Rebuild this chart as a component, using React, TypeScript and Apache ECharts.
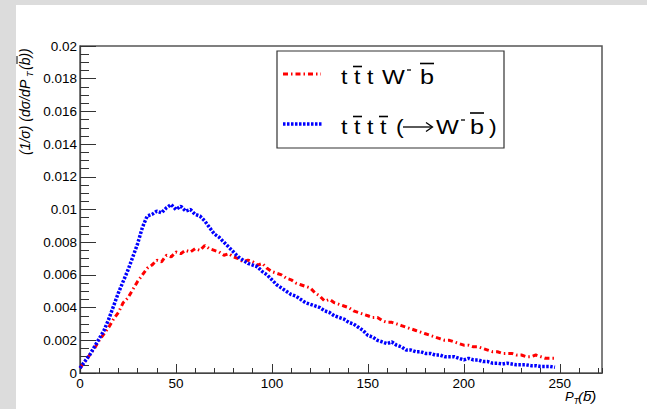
import React, { useEffect, useRef } from "react";
import * as echarts from "echarts";

// Bin centres of P_T(b-bar)
const PT = [
  0, 2.5, 5, 7.5, 10, 12.5, 15, 17.5, 20, 22.5, 25, 27.5, 30, 32.5, 35, 37.5, 40, 42.5, 45, 47.5,
  50, 52.5, 55, 57.5, 60, 62.5, 65, 67.5, 70, 72.5, 75, 77.5, 80, 82.5, 85, 87.5, 90, 92.5, 95, 97.5,
  100, 102.5, 105, 107.5, 110, 112.5, 115, 117.5, 120, 122.5, 125, 127.5, 130, 132.5, 135, 137.5, 140, 142.5, 145, 147.5,
  150, 152.5, 155, 157.5, 160, 162.5, 165, 167.5, 170, 172.5, 175, 177.5, 180, 182.5, 185, 187.5, 190, 192.5, 195, 197.5,
  200, 202.5, 205, 207.5, 210, 212.5, 215, 217.5, 220, 222.5, 225, 227.5, 230, 232.5, 235, 237.5, 240, 242.5, 245, 247.5,
];

// t tbar t W- bbar (red)
const RED = [
  0.0003, 0.0007, 0.0011, 0.0015, 0.002, 0.0024, 0.0028, 0.0033, 0.0037, 0.0043,
  0.0046, 0.0051, 0.0056, 0.006, 0.0064, 0.0066, 0.0069, 0.0068, 0.0072, 0.0071,
  0.0074, 0.0073, 0.0075, 0.0074, 0.0076, 0.0075, 0.0078, 0.0076, 0.0075, 0.0074,
  0.0072, 0.0073, 0.0071, 0.007, 0.0068, 0.0069, 0.0068, 0.0066, 0.0067, 0.0064,
  0.0062, 0.0061, 0.006, 0.0058, 0.0057, 0.0055, 0.0054, 0.0053, 0.0052, 0.0049,
  0.0047, 0.0044, 0.0045, 0.0043, 0.0042, 0.0041, 0.004, 0.0038, 0.0037, 0.0036,
  0.0035, 0.0034, 0.0034, 0.0032, 0.0031, 0.0031, 0.003, 0.0029, 0.0028, 0.0027,
  0.0026, 0.0025, 0.0024, 0.0023, 0.0022, 0.0021, 0.002, 0.002, 0.0019, 0.0018,
  0.0017, 0.0017, 0.0016, 0.0016, 0.0015, 0.0014, 0.0013, 0.0013, 0.0012, 0.0012,
  0.0012, 0.0011, 0.0011, 0.001, 0.001, 0.0011, 0.001, 0.0009, 0.0009, 0.0009,
];

// t tbar t tbar (-> W- bbar) (blue)
const BLUE = [
  0.0003, 0.0007, 0.0011, 0.0016, 0.0021, 0.0026, 0.0033, 0.0041, 0.0049, 0.0056,
  0.0063, 0.0071, 0.0079, 0.0089, 0.0096, 0.0097, 0.0099, 0.0098, 0.0101, 0.0103,
  0.01, 0.0102, 0.0099, 0.01, 0.0097, 0.0096, 0.0093, 0.0089, 0.0085, 0.0083,
  0.008, 0.0077, 0.0074, 0.0071, 0.0069, 0.0067, 0.0066, 0.0065, 0.0062, 0.006,
  0.0057, 0.0054, 0.0052, 0.005, 0.0048, 0.0047, 0.0045, 0.0043, 0.0042, 0.0041,
  0.004, 0.0038, 0.0037, 0.0035, 0.0034, 0.0033, 0.0031, 0.003, 0.0028, 0.0026,
  0.0023, 0.0022, 0.002, 0.0019, 0.0018, 0.0019, 0.0017, 0.0016, 0.0014, 0.0014,
  0.0013, 0.0013, 0.0012, 0.0012, 0.0011, 0.0011, 0.001, 0.001, 0.001, 0.0009,
  0.0008, 0.0009, 0.0008, 0.0008, 0.0007, 0.0007, 0.0006, 0.0006, 0.00055, 0.0006,
  0.00055, 0.0005, 0.0005, 0.0005, 0.00045, 0.00045, 0.0004, 0.0004, 0.0004, 0.00035,
];

const X_MIN = 0;
const X_MAX = 272;
const Y_MIN = 0;
const Y_MAX = 0.02;

const FONT = "'Liberation Sans', Arial, Helvetica, sans-serif";

export default function App() {
  const ref = useRef<HTMLDivElement | null>(null);

  useEffect(() => {
    if (!ref.current) return;
    const chart = echarts.init(ref.current, undefined, { renderer: "svg" });

    const legendFs = 21;
    const tok = (s: string, x: number, base: number, sx = 1.1, fs = legendFs) => ({
      type: "text",
      x,
      y: base - 0.35 * fs,
      scaleX: sx,
      z: 10,
      style: { text: s, fontSize: fs, fontFamily: FONT, fill: "#000", verticalAlign: "middle", align: "left" },
    });
    const bar = (x1: number, x2: number, y: number, w = 1.6) => ({
      type: "line",
      z: 10,
      shape: { x1, y1: y, x2, y2: y },
      style: { stroke: "#000", lineWidth: w },
    });

    const redDash = [5, 3, 1.5, 3];
    const blueDash = [2.5, 1.5];
    const xtFs = 13;

    const option: any = {
      animation: false,
      backgroundColor: "#dcdcdc",
      grid: {
        left: 80,
        top: 46,
        width: 522,
        height: 327,
        show: true,
        backgroundColor: "transparent",
        borderColor: "#555",
        borderWidth: 1.5,
        containLabel: false,
      },
      xAxis: [
        {
          type: "value",
          min: X_MIN,
          max: X_MAX,
          interval: 50,
          axisLine: { show: true, lineStyle: { color: "#444", width: 1.2 } },
          axisTick: { show: true, inside: true, length: 9, lineStyle: { color: "#333" } },
          minorTick: { show: false },
          splitLine: { show: false },
          axisLabel: {
            show: true,
            margin: 3,
            color: "#000",
            fontSize: 13.5,
            fontFamily: FONT,
            showMaxLabel: false,
          },
        },
        {
          type: "value",
          min: X_MIN,
          max: X_MAX,
          interval: 10,
          position: "bottom",
          axisLine: { show: false },
          axisTick: { show: true, inside: true, length: 5, lineStyle: { color: "#333" } },
          splitLine: { show: false },
          axisLabel: { show: false },
        },
      ],
      yAxis: {
        type: "value",
        min: Y_MIN,
        max: Y_MAX,
        interval: 0.002,
        axisLine: { show: true, lineStyle: { color: "#444", width: 1.2 } },
        axisTick: { show: true, inside: true, length: 16, lineStyle: { color: "#333" } },
        minorTick: { show: true, splitNumber: 4, length: 9, lineStyle: { color: "#333" } },
        splitLine: { show: false },
        axisLabel: {
          margin: 3,
          color: "#000",
          fontSize: 13.5,
          fontFamily: FONT,
          formatter: (v: number) => (v === 0 ? "0" : String(parseFloat(v.toFixed(4)))),
        },
      },
      series: [
        {
          name: "ttbartWbbar",
          type: "line",
          xAxisIndex: 0,
          yAxisIndex: 0,
          symbol: "none",
          showSymbol: false,
          data: PT.map((x, i) => [x, RED[i]]),
          lineStyle: { color: "#ff0000", width: 3, type: redDash },
          z: 3,
        },
        {
          name: "ttbarttbar",
          type: "line",
          xAxisIndex: 0,
          yAxisIndex: 0,
          symbol: "none",
          showSymbol: false,
          data: PT.map((x, i) => [x, BLUE[i]]),
          lineStyle: { color: "#0000ff", width: 3.5, type: blueDash },
          z: 4,
        },
      ],
      graphic: [
        // white pad
        {
          type: "rect",
          z: -10,
          silent: true,
          shape: { x: 16, y: 5, width: 631, height: 404 },
          style: { fill: "#ffffff" },
        },
        // legend box
        {
          type: "rect",
          z: 9,
          shape: { x: 277, y: 51, width: 227, height: 97 },
          style: { fill: "#ffffff", stroke: "#333", lineWidth: 1.2 },
        },
        {
          type: "line",
          z: 10,
          shape: { x1: 283, y1: 74, x2: 321, y2: 74 },
          style: { stroke: "#ff0000", lineWidth: 3, lineDash: redDash },
        },
        {
          type: "line",
          z: 10,
          shape: { x1: 283, y1: 124, x2: 322, y2: 124 },
          style: { stroke: "#0000ff", lineWidth: 3.5, lineDash: blueDash },
        },
        // line 1: t tbar t W- bbar
        tok("t", 341, 84),
        tok("t", 354, 84),
        bar(353, 362, 66.5),
        tok("t", 367, 84),
        tok("W", 382, 84, 1.15),
        bar(407, 411, 70, 1.3),
        tok("b", 420, 84, 1.2),
        bar(420, 434, 63.5),
        // line 2: t tbar t tbar (-> W- bbar)
        tok("t", 341, 134),
        tok("t", 354, 134),
        bar(353, 362, 116.5),
        tok("t", 367, 134),
        tok("t", 380, 134),
        bar(379, 388, 116.5),
        tok("(", 396, 134),
        {
          type: "line",
          z: 10,
          shape: { x1: 403, y1: 127, x2: 432, y2: 127 },
          style: { stroke: "#000", lineWidth: 1.3 },
        },
        {
          type: "polyline",
          z: 10,
          shape: { points: [[426, 122.5], [432.5, 127], [426, 131.5]] },
          style: { stroke: "#000", lineWidth: 1.3, fill: "none" },
        },
        tok("W", 436, 134, 1.15),
        bar(461, 465, 120, 1.3),
        tok("b", 470, 134, 1.2),
        bar(470, 484, 113),
        tok(")", 489, 134),
        // y-axis title (rotated)
        {
          type: "group",
          x: 30,
          y: 155,
          rotation: Math.PI / 2,
          z: 10,
          children: [
            {
              type: "text",
              x: 0,
              y: -0.35 * 14,
              style: {
                text: "(1/\u03c3) (d\u03c3/dP",
                fontSize: 14,
                fontStyle: "italic",
                fontFamily: FONT,
                fill: "#000",
                verticalAlign: "middle",
              },
            },
            {
              type: "text",
              x: 78,
              y: 3 - 0.35 * 9,
              style: { text: "T", fontSize: 9, fontStyle: "italic", fontFamily: FONT, fill: "#000", verticalAlign: "middle" },
            },
            {
              type: "text",
              x: 85,
              y: -0.35 * 14,
              style: {
                text: "(b))",
                fontSize: 14,
                fontStyle: "italic",
                fontFamily: FONT,
                fill: "#000",
                verticalAlign: "middle",
              },
            },
            {
              type: "line",
              shape: { x1: 91, y1: -13, x2: 99, y2: -13 },
              style: { stroke: "#000", lineWidth: 1 },
            },
          ],
        },
        // x-axis title
        {
          type: "text",
          x: 565,
          y: 401 - 0.35 * xtFs,
          z: 10,
          style: { text: "P", fontSize: xtFs, fontStyle: "italic", fontFamily: FONT, fill: "#000", verticalAlign: "middle" },
        },
        {
          type: "text",
          x: 573.5,
          y: 404 - 0.35 * 9,
          z: 10,
          style: { text: "T", fontSize: 9, fontStyle: "italic", fontFamily: FONT, fill: "#000", verticalAlign: "middle" },
        },
        {
          type: "text",
          x: 578,
          y: 401 - 0.35 * xtFs,
          z: 10,
          scaleX: 1.15,
          style: { text: "(b)", fontSize: xtFs, fontStyle: "italic", fontFamily: FONT, fill: "#000", verticalAlign: "middle" },
        },
        bar(585, 594, 391.5, 1),
      ],
    };

    chart.setOption(option);
    return () => {
      chart.dispose();
    };
  }, []);

  return (
    <div
      ref={ref}
      style={{ position: "fixed", left: 0, top: 0, width: 647, height: 409 }}
    />
  );
}
